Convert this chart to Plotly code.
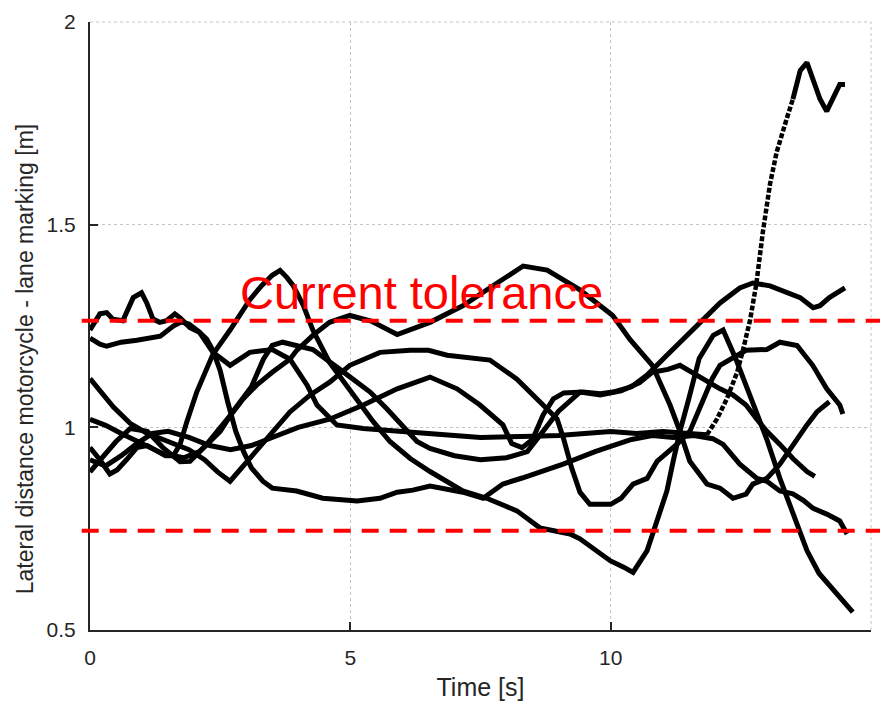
import plotly.graph_objects as go

# ---- data ----
a_x = [0, 0.19, 0.32, 0.44, 0.63, 0.77, 0.83, 0.99, 1.09, 1.21, 1.34, 1.47, 1.63, 1.73, 1.92, 2.11, 2.24, 2.36, 2.5, 2.65, 2.8, 2.95, 3.1, 3.32, 3.5, 3.97, 4.47, 5.13, 5.57, 5.9, 6.2, 6.53, 7.16, 7.55, 7.93, 8.3, 9.1, 9.7, 10.4, 10.8, 11.2, 11.6, 11.96, 12.16, 12.48, 12.81, 13.0, 13.25, 13.5, 13.7, 13.89, 14.15, 14.4, 14.54]
a_y = [1.24, 1.28, 1.283, 1.267, 1.263, 1.307, 1.32, 1.332, 1.307, 1.267, 1.259, 1.263, 1.28, 1.27, 1.246, 1.234, 1.218, 1.19, 1.14, 1.06, 0.99, 0.94, 0.90, 0.867, 0.85, 0.843, 0.825, 0.818, 0.825, 0.84, 0.845, 0.855, 0.84, 0.825, 0.86, 0.875, 0.91, 0.94, 0.97, 0.98, 0.975, 0.98, 0.972, 0.958, 0.909, 0.874, 0.867, 0.843, 0.836, 0.82, 0.80, 0.786, 0.769, 0.737]

b_x = [0, 0.19, 0.38, 0.52, 0.7, 0.9, 1.1, 1.3, 1.45, 1.6, 1.73, 1.86, 2.05, 2.36, 2.69, 3.07, 3.3, 3.5, 3.65, 3.78, 3.9, 4.1, 4.28, 4.6, 4.94, 5.25, 5.44, 5.76, 6.15, 6.53, 7.16, 7.62, 8.2, 8.64, 9.22, 9.41, 9.99, 10.25, 10.43, 10.7, 10.89, 11.08, 11.2, 11.33, 11.5, 11.7, 11.97, 12.16, 12.4, 12.75, 13.0, 13.25, 13.5, 13.77, 14.0, 14.2, 14.4, 14.65]
b_y = [0.95, 0.92, 0.885, 0.895, 0.92, 0.95, 0.955, 0.94, 0.93, 0.93, 0.958, 1.014, 1.087, 1.18, 1.24, 1.315, 1.35, 1.375, 1.387, 1.37, 1.35, 1.30, 1.24, 1.16, 1.10, 1.046, 1.014, 0.965, 0.923, 0.891, 0.843, 0.825, 0.794, 0.752, 0.737, 0.725, 0.671, 0.655, 0.642, 0.696, 0.769, 0.843, 0.916, 0.99, 1.07, 1.17, 1.227, 1.24, 1.17, 1.055, 0.97, 0.874, 0.786, 0.696, 0.64, 0.61, 0.58, 0.544]

c_x = [0, 0.19, 0.32, 0.6, 0.9, 1.1, 1.35, 1.6, 1.75, 1.9, 2.1, 2.36, 2.69, 3.07, 3.5, 3.84, 4.17, 4.36, 4.74, 5.25, 5.5, 6.0, 6.5, 7.0, 7.5, 8.0, 8.5, 9.0, 9.5, 10.0, 10.5, 11.0, 11.5, 11.85, 12.04, 12.23, 12.43, 12.54, 12.68, 12.8, 12.92, 13.06, 13.19, 13.39, 13.5, 13.64, 13.77, 13.89, 14.02, 14.15, 14.27, 14.4, 14.5]
c_y = [1.22, 1.205, 1.20, 1.21, 1.215, 1.22, 1.225, 1.25, 1.26, 1.255, 1.235, 1.185, 1.153, 1.185, 1.192, 1.168, 1.104, 1.055, 1.006, 0.997, 0.995, 0.99, 0.985, 0.98, 0.975, 0.975, 0.978, 0.98, 0.985, 0.99, 0.985, 0.99, 0.985, 0.982, 1.02, 1.07, 1.136, 1.19, 1.266, 1.356, 1.479, 1.60, 1.68, 1.765, 1.81, 1.88, 1.90, 1.853, 1.81, 1.78, 1.81, 1.846, 1.846]
c_sparse_from = 11.85   # sparsely sampled (dotted-looking) part of this trial
c_sparse_to = 13.5

d_x = [0, 0.2, 0.45, 0.77, 1.1, 1.5, 1.9, 2.2, 2.45, 2.69, 3.07, 3.46, 3.84, 4.23, 4.61, 4.99, 5.57, 6.15, 6.5, 6.86, 7.3, 7.68, 8.2, 8.58, 8.97, 9.1, 9.25, 9.41, 9.6, 10.0, 10.2, 10.43, 10.7, 10.89, 11.27, 11.52, 11.75, 11.95, 12.1, 12.43, 12.6, 13.0, 13.25, 13.58, 13.88, 14.15, 14.4, 14.46]
d_y = [1.12, 1.09, 1.05, 1.01, 0.985, 0.965, 0.945, 0.92, 0.89, 0.867, 0.923, 0.982, 1.038, 1.08, 1.112, 1.153, 1.185, 1.19, 1.19, 1.178, 1.17, 1.166, 1.119, 1.07, 1.021, 0.97, 0.9, 0.84, 0.81, 0.81, 0.825, 0.86, 0.874, 0.916, 0.958, 0.99, 1.06, 1.12, 1.153, 1.178, 1.19, 1.192, 1.21, 1.202, 1.153, 1.095, 1.055, 1.033]

e_x = [0, 0.3, 0.6, 1.0, 1.4, 1.8, 2.1, 2.24, 2.5, 2.75, 2.94, 3.2, 3.5, 3.84, 3.97, 4.28, 4.6, 4.99, 5.4, 5.9, 6.53, 7.16, 7.82, 8.32, 8.78, 9.41, 10.04, 10.37, 10.8, 11.14, 11.33, 11.52, 11.85, 12.1, 12.35, 12.6, 12.73, 13.0, 13.25, 13.5, 13.77, 13.96, 14.08, 14.2]
e_y = [1.02, 1.005, 0.985, 0.96, 0.935, 0.925, 0.94, 0.958, 0.997, 1.038, 1.07, 1.104, 1.136, 1.168, 1.19, 1.227, 1.259, 1.276, 1.262, 1.229, 1.259, 1.30, 1.356, 1.398, 1.388, 1.339, 1.276, 1.217, 1.153, 1.055, 0.99, 0.916, 0.86, 0.85, 0.825, 0.835, 0.86, 0.874, 0.909, 0.958, 1.006, 1.038, 1.05, 1.063]

f_x = [0, 0.3, 0.6, 0.9, 1.2, 1.5, 1.9, 2.3, 2.7, 3.1, 3.5, 4.0, 4.6, 5.25, 5.9, 6.53, 7.05, 7.49, 7.93, 8.1, 8.3, 8.5, 8.7, 8.9, 9.1, 9.47, 9.8, 10.04, 10.4, 10.7, 11.08, 11.47, 11.85, 12.1, 12.48, 12.73, 13.06, 13.44, 13.64, 13.89, 14.02, 14.2, 14.5]
f_y = [0.92, 0.905, 0.93, 0.96, 0.985, 0.99, 0.975, 0.955, 0.945, 0.955, 0.975, 1.0, 1.02, 1.055, 1.095, 1.124, 1.095, 1.055, 1.006, 0.96, 0.95, 0.97, 1.03, 1.07, 1.085, 1.087, 1.083, 1.087, 1.10, 1.129, 1.178, 1.227, 1.276, 1.307, 1.344, 1.356, 1.349, 1.332, 1.32, 1.295, 1.30, 1.32, 1.344]

g_x = [0, 0.2, 0.5, 0.77, 1.1, 1.4, 1.73, 1.92, 2.24, 2.5, 2.75, 3.1, 3.33, 3.5, 3.7, 4.0, 4.28, 4.8, 5.13, 5.38, 5.7, 6.0, 6.28, 6.53, 7.0, 7.5, 8.0, 8.4, 8.7, 9.0, 9.41, 9.8, 10.2, 10.55, 10.8, 11.1, 11.33, 11.77, 12.1, 12.35, 12.6, 12.8, 13.0, 13.25, 13.5, 13.77, 13.92]
g_y = [0.89, 0.92, 0.965, 0.997, 0.99, 0.95, 0.915, 0.916, 0.958, 0.99, 1.04, 1.10, 1.168, 1.202, 1.21, 1.20, 1.192, 1.143, 1.112, 1.087, 1.046, 1.006, 0.965, 0.948, 0.93, 0.92, 0.925, 0.94, 0.99, 1.04, 1.087, 1.08, 1.09, 1.11, 1.136, 1.143, 1.153, 1.119, 1.095, 1.08, 1.055, 1.021, 0.99, 0.958, 0.923, 0.891, 0.879]

tolerance_upper = 1.263
tolerance_lower = 0.745
x_ticks = [0, 5, 10, 15]
y_ticks = [0.5, 1, 1.5, 2]
y_tick_labels = ["0.5", "1", "1.5", "2"]

LINE = dict(color="black", width=5)

fig = go.Figure()
for xs, ys in [(a_x, a_y), (b_x, b_y), (d_x, d_y), (e_x, e_y), (f_x, f_y), (g_x, g_y)]:
    fig.add_trace(go.Scatter(x=xs, y=ys, mode="lines", line=LINE, hoverinfo="skip"))

# trial C: dense part solid, fast-changing part drawn dotted like the sparse samples
i0 = c_x.index(c_sparse_from)
i1 = c_x.index(c_sparse_to)
fig.add_trace(go.Scatter(x=c_x[:i0 + 1], y=c_y[:i0 + 1], mode="lines", line=LINE, hoverinfo="skip"))
fig.add_trace(go.Scatter(x=c_x[i0:i1 + 1], y=c_y[i0:i1 + 1], mode="lines",
                         line=dict(color="black", width=4.5, dash="5px,2px"), hoverinfo="skip"))
fig.add_trace(go.Scatter(x=c_x[i1:], y=c_y[i1:], mode="lines", line=LINE, hoverinfo="skip"))

# dotted grid edges (top and right)
fig.add_shape(type="line", xref="paper", yref="paper", x0=0, x1=1, y0=1, y1=1,
              line=dict(color="#c4c4c4", width=1, dash="dot"), layer="below")
fig.add_shape(type="line", xref="paper", yref="paper", x0=1, x1=1, y0=0, y1=1,
              line=dict(color="#c4c4c4", width=1, dash="dot"), layer="below")

for yv in (tolerance_upper, tolerance_lower):
    fig.add_shape(type="line", xref="paper", yref="y",
                  x0=-0.0106, x1=1.0115, y0=yv, y1=yv,
                  line=dict(color="#ff0000", width=4, dash="17px,11px"),
                  layer="above")

fig.add_annotation(x=6.37, y=1.332, xref="x", yref="y", text="Current tolerance",
                   showarrow=False, font=dict(size=47, color="#ff0000"),
                   xanchor="center", yanchor="middle")

fig.add_annotation(x=-0.0832, y=0.4454, xref="paper", yref="paper",
                   text="Lateral distance motorcycle - lane marking [m]",
                   textangle=-90, showarrow=False,
                   font=dict(size=23, color="#262626"),
                   xanchor="center", yanchor="middle")

axis_common = dict(
    showgrid=True, gridcolor="#c4c4c4", griddash="dot", gridwidth=1,
    showline=True, linecolor="#262626", linewidth=2,
    ticks="inside", ticklen=8, tickwidth=1.5, tickcolor="#262626",
    tickfont=dict(size=21, color="#262626"),
    zeroline=False, mirror=False,
)

fig.update_layout(
    width=881, height=707,
    margin=dict(l=90, r=10, t=17, b=77),
    paper_bgcolor="white", plot_bgcolor="white",
    showlegend=False,
    font=dict(family="Arial, 'Liberation Sans', sans-serif", color="#262626"),
    xaxis=dict(range=[0, 15], tickvals=x_ticks,
               title=dict(text="Time [s]", font=dict(size=25, color="#262626"), standoff=10),
               ticklabelstandoff=8, **axis_common),
    yaxis=dict(range=[0.5, 2], tickvals=y_ticks, ticktext=y_tick_labels,
               ticklabelstandoff=8, **axis_common),
)

fig.write_html("out.html")
